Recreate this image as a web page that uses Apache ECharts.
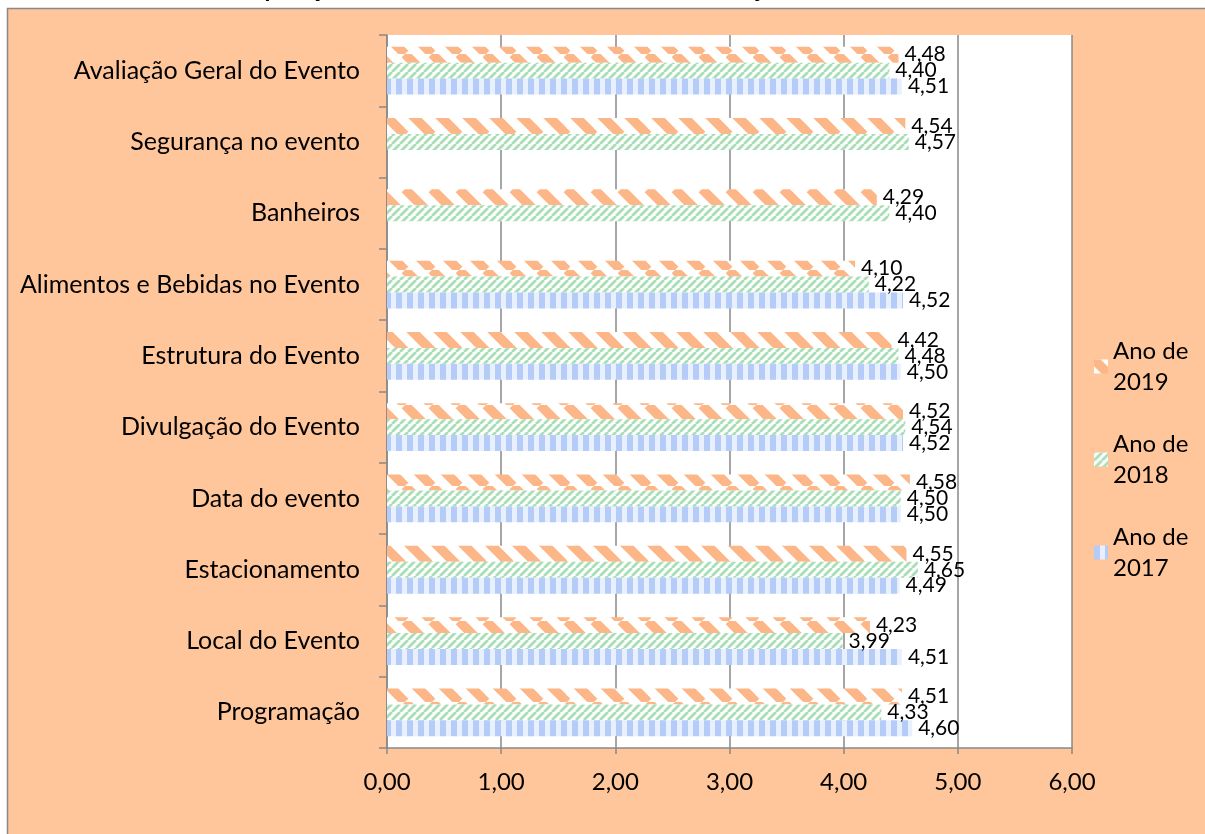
<!DOCTYPE html>
<html>
<head>
<meta charset="utf-8">
<script src="https://cdn.jsdelivr.net/npm/echarts@6/dist/echarts.min.js"></script>
<style>
html,body{margin:0;padding:0;background:#fff;}
#chart{width:1205px;height:834px;}
</style>
</head>
<body>
<div id="chart"></div>
<script>
var titleText = 'Comparação entre os Resultados Médios da Avaliação';
var categories = ['Avaliação Geral do Evento','Segurança no evento','Banheiros','Alimentos e Bebidas no Evento','Estrutura do Evento','Divulgação do Evento','Data do evento','Estacionamento','Local do Evento','Programação'];
var seriesNames = ['Ano de 2019','Ano de 2018','Ano de 2017'];
var values2019 = [4.48, 4.54, 4.29, 4.10, 4.42, 4.52, 4.58, 4.55, 4.23, 4.51];
var values2018 = [4.40, 4.57, 4.40, 4.22, 4.48, 4.54, 4.50, 4.65, 3.99, 4.33];
var values2017 = [4.51, null, null, 4.52, 4.50, 4.52, 4.50, 4.49, 4.51, 4.60];
var xTicks = [0,1,2,3,4,5,6];

function diagPattern(size, color, width, down) {
  var c = document.createElement('canvas');
  c.width = size; c.height = size;
  var ctx = c.getContext('2d');
  ctx.fillStyle = '#ffffff';
  ctx.fillRect(0,0,size,size);
  ctx.strokeStyle = color;
  ctx.lineWidth = width;
  for (var o = -size; o <= size; o += size) {
    ctx.beginPath();
    if (down) { ctx.moveTo(o, 0); ctx.lineTo(o + size, size); }
    else { ctx.moveTo(o, size); ctx.lineTo(o + size, 0); }
    ctx.stroke();
  }
  return {image: c, repeat: 'repeat'};
}
function vertPattern(w, stripe, color, bg) {
  var c = document.createElement('canvas');
  c.width = w; c.height = 4;
  var ctx = c.getContext('2d');
  ctx.fillStyle = bg; ctx.fillRect(0,0,w,4);
  ctx.fillStyle = color; ctx.fillRect(0,0,stripe,4);
  return {image: c, repeat: 'repeat'};
}
var pat2019 = diagPattern(27, '#fdb687', 9.5, true);
var pat2018 = diagPattern(8, '#a8dfb6', 2.8, false);
var pat2017 = vertPattern(11, 6, '#b4ccf7', '#e9f0fd');

var FONT = 'Lato';
function fmt(v){ return v.toFixed(2).replace('.', ','); }

var chart = echarts.init(document.getElementById('chart'));
function mk(name, data, pat) {
  return {
    name: name, type: 'bar', data: data,
    barGap: '0%', barCategoryGap: '33%',
    itemStyle: {color: pat},
    label: {show: true, position: 'right', distance: 6, color: '#000', fontFamily: FONT, fontSize: 21,
      formatter: function(p){ return p.value == null ? '' : fmt(p.value); }},
    emphasis: {disabled: true}
  };
}
chart.setOption({
  animation: false,
  backgroundColor: '#ffffff',
  title: {text: titleText, left: 210, top: -28, textStyle: {fontFamily: FONT, fontSize: 24, fontWeight: 'bold', color: '#000'}},
  graphic: [{type: 'rect', z: -10, shape: {x: 7.5, y: 8.5, width: 1205, height: 830}, style: {fill: '#ffc59b', stroke: '#898989', lineWidth: 1.5}}],
  grid: {left: 387, right: 133, top: 35, bottom: 86, show: true, backgroundColor: '#ffffff', borderWidth: 0},
  legend: {
    orient: 'vertical', left: 1094, top: 320, padding: 0, itemGap: 0,
    itemWidth: 14, itemHeight: 14, icon: 'rect',
    data: seriesNames,
    formatter: function(n){ return n.replace(' 20', '\n20'); },
    textStyle: {fontFamily: FONT, fontSize: 24, lineHeight: 31, color: '#000', padding: [31,0,0,0]}
  },
  xAxis: {
    type: 'value', min: xTicks[0], max: xTicks[xTicks.length-1], interval: 1,
    axisLine: {show: true, lineStyle: {color: '#898989', width: 1.5}},
    axisTick: {show: true, length: 6, lineStyle: {color: '#898989', width: 1.5}},
    splitLine: {show: true, lineStyle: {color: '#898989', width: 1.5}},
    axisLabel: {formatter: fmt, fontFamily: FONT, fontSize: 24, color: '#000', margin: 22}
  },
  yAxis: {
    type: 'category', data: categories, inverse: true,
    axisLine: {show: true, lineStyle: {color: '#898989', width: 1.5}},
    axisTick: {show: true, length: 8, lineStyle: {color: '#898989', width: 1.5}},
    axisLabel: {fontFamily: FONT, fontSize: 25, color: '#000', margin: 27}
  },
  series: [mk(seriesNames[0], values2019, pat2019), mk(seriesNames[1], values2018, pat2018), mk(seriesNames[2], values2017, pat2017)]
});
</script>
</body>
</html>
